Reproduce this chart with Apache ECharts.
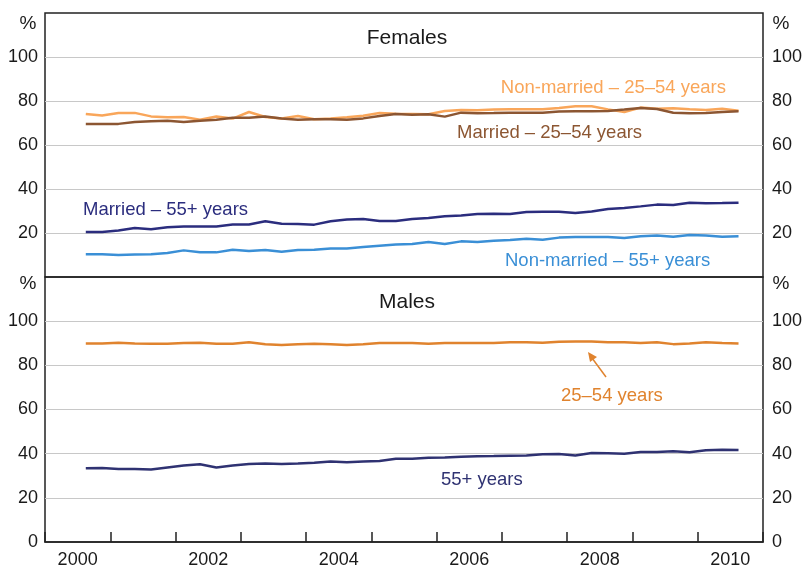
<!DOCTYPE html>
<html>
<head>
<meta charset="utf-8">
<script src="https://cdn.jsdelivr.net/npm/echarts@6/dist/echarts.min.js"></script>
<style>
  html, body { margin: 0; padding: 0; background: #fff; }
  #chart { width: 808px; height: 570px; }
</style>
</head>
<body>
<div id="chart"></div>
<script>
'use strict';
/* participation rates by marital status / age, quarterly 2000 Q3 - 2010 Q3 */

var years = ['2000', '2001', '2002', '2003', '2004', '2005', '2006', '2007', '2008', '2009', '2010'];

// females
var nonMarried2554 = [74.1, 73.4, 74.5, 74.6, 73.0, 72.6, 72.7, 71.5, 73.0, 72.0, 75.0, 72.7, 72.0, 73.2, 71.7, 72.1, 72.6, 73.3, 74.5, 74.2, 74.1,
  74.0, 75.5, 75.9, 75.8, 76.1, 76.2, 76.2, 76.2, 76.8, 77.6, 77.6, 76.2, 75.0, 77.0, 76.5, 76.7, 76.2, 75.9, 76.5, 75.6];
var married2554 = [69.6, 69.5, 69.6, 70.5, 70.8, 71.0, 70.4, 71.0, 71.5, 72.4, 72.4, 73.0, 72.0, 71.5, 71.7, 71.7, 71.5, 72.1, 73.2, 74.1, 73.8,
  74.0, 72.9, 74.7, 74.4, 74.5, 74.7, 74.7, 74.7, 75.2, 75.3, 75.3, 75.5, 76.1, 76.8, 76.4, 74.7, 74.4, 74.5, 75.0, 75.3];
var married55 = [20.5, 20.5, 21.1, 22.3, 21.7, 22.6, 23.0, 23.0, 23.0, 23.9, 23.9, 25.3, 24.2, 24.1, 23.8, 25.3, 26.1, 26.4, 25.5, 25.5, 26.4,
  26.8, 27.6, 28.0, 28.6, 28.8, 28.6, 29.5, 29.7, 29.7, 29.1, 29.8, 30.9, 31.4, 32.1, 32.9, 32.7, 33.8, 33.5, 33.6, 33.8];
var nonMarried55 = [10.3, 10.3, 10.0, 10.2, 10.3, 10.9, 12.1, 11.2, 11.2, 12.4, 11.8, 12.3, 11.5, 12.3, 12.4, 13.0, 13.0, 13.6, 14.2, 14.8, 15.0,
  15.9, 15.0, 16.2, 15.9, 16.5, 16.8, 17.4, 16.9, 17.9, 18.2, 18.2, 18.2, 17.7, 18.5, 18.9, 18.3, 19.1, 18.9, 18.3, 18.5];

// males
var males2554 = [89.9, 89.9, 90.2, 89.9, 89.8, 89.8, 90.1, 90.2, 89.8, 89.8, 90.4, 89.6, 89.2, 89.5, 89.8, 89.6, 89.2, 89.6, 90.1, 90.1, 90.1,
  89.8, 90.1, 90.1, 90.1, 90.1, 90.4, 90.5, 90.2, 90.7, 90.8, 90.8, 90.4, 90.4, 90.1, 90.5, 89.6, 89.9, 90.4, 90.1, 89.9];
var males55 = [33.4, 33.5, 33.1, 33.1, 32.8, 33.7, 34.6, 35.2, 33.7, 34.6, 35.3, 35.6, 35.3, 35.5, 35.9, 36.5, 36.1, 36.5, 36.7, 37.7, 37.7,
  38.2, 38.3, 38.6, 38.8, 38.9, 39.1, 39.2, 39.7, 39.8, 39.2, 40.3, 40.2, 40.0, 40.8, 40.8, 41.1, 40.6, 41.5, 41.8, 41.7];

// quarter categories, data runs from 2000 Q3 to 2010 Q3
var quarters = [];
for (var i = 0; i < years.length; i++) {
  for (var q = 1; q <= 4; q++) {
    quarters.push(years[i] + ' Q' + q);
  }
}
function pad(values) {
  return [null, null].concat(values).concat([null]);
}

var FONT = 'Liberation Sans, Arial, sans-serif';
var TXT = '#1a1a1a';
var GL = 45, GR = 763, TOP1 = 13, MID = 277, BOT = 542;

var gridLines = ['rgba(0,0,0,0)', '#c8c8c8', '#c8c8c8', '#c8c8c8', '#c8c8c8', '#c8c8c8', 'rgba(0,0,0,0)'];

function yAxis(gridIndex, side, hideZero) {
  return {
    type: 'value',
    gridIndex: gridIndex,
    position: side,
    min: 0,
    max: 120,
    interval: 20,
    axisLine: { show: false },
    axisTick: { show: false },
    axisLabel: {
      fontSize: 18,
      fontFamily: FONT,
      color: TXT,
      margin: side === 'left' ? 7 : 9,
      formatter: function(v) {
        if (v === 120 || (hideZero && v === 0)) return '';
        return v;
      }
    },
    splitLine: { show: side === 'left', lineStyle: { color: gridLines, width: 1 } }
  };
}

function line(name, values, xIdx, yIdx, color) {
  return {
    name: name,
    type: 'line',
    xAxisIndex: xIdx,
    yAxisIndex: yIdx,
    data: pad(values),
    showSymbol: false,
    symbol: 'none',
    lineStyle: { color: color, width: 2.5 },
    itemStyle: { color: color },
    silent: true,
    z: 3
  };
}

function label(text, x, y, color, align, size) {
  return {
    type: 'text',
    x: x,
    y: y,
    z: 10,
    style: {
      text: text,
      fill: color,
      font: (size || 18.5) + 'px ' + FONT,
      textAlign: align || 'left',
      textVerticalAlign: 'middle'
    }
  };
}

var chart = echarts.init(document.getElementById('chart'));
var option = {
  animation: false,
  backgroundColor: '#fff',
  grid: [
    { left: GL, right: 808 - GR, top: TOP1, height: MID - TOP1, show: true, borderColor: '#222', borderWidth: 1.5, backgroundColor: 'transparent' },
    { left: GL, right: 808 - GR, top: MID, height: BOT - MID, show: true, borderColor: '#222', borderWidth: 1.5, backgroundColor: 'transparent' }
  ],
  xAxis: [
    { type: 'category', gridIndex: 0, data: quarters, boundaryGap: true, show: false },
    { type: 'category', gridIndex: 1, data: quarters, boundaryGap: true, show: false, position: 'top' },
    {
      type: 'category',
      gridIndex: 1,
      data: years,
      boundaryGap: true,
      position: 'bottom',
      axisLine: { show: true, lineStyle: { color: '#222', width: 1.5 } },
      axisTick: { show: true, inside: true, length: 10, interval: 0, lineStyle: { color: '#222', width: 1.5 } },
      axisLabel: { interval: 1, fontSize: 18, fontFamily: FONT, color: TXT, margin: 9 },
      splitLine: { show: false }
    }
  ],
  yAxis: [
    yAxis(0, 'left', true),
    yAxis(0, 'right', true),
    yAxis(1, 'left', false),
    yAxis(1, 'right', false)
  ],
  series: [
    line('Non-married – 25–54 years', nonMarried2554, 0, 0, '#f9a65a'),
    line('Married – 25–54 years', married2554, 0, 0, '#8c5632'),
    line('Married – 55+ years', married55, 0, 0, '#2b2d7e'),
    line('Non-married – 55+ years', nonMarried55, 0, 0, '#3a8fd6'),
    line('25–54 years', males2554, 1, 2, '#e0832e'),
    line('55+ years', males55, 1, 2, '#2f3272')
  ],
  graphic: [
    label('%', 28, 24, TXT, 'center', 19),
    label('%', 781, 24, TXT, 'center', 19),
    label('%', 28, 284, TXT, 'center', 19),
    label('%', 781, 284, TXT, 'center', 19),
    label('Females', 407, 38, TXT, 'center', 21),
    label('Males', 407, 302, TXT, 'center', 21),
    label('Non-married – 25–54 years', 726, 88, '#f9a65a', 'right'),
    label('Married – 25–54 years', 457, 133, '#8c5632', 'left'),
    label('Married – 55+ years', 83, 210, '#2b2d7e', 'left'),
    label('Non-married – 55+ years', 505, 261, '#3a8fd6', 'left'),
    label('25–54 years', 561, 396, '#e0832e', 'left'),
    label('55+ years', 441, 480, '#2f3272', 'left'),
    {
      type: 'line',
      z: 10,
      shape: { x1: 606, y1: 377, x2: 592, y2: 358 },
      style: { stroke: '#e0832e', lineWidth: 1.5 }
    },
    {
      type: 'polygon',
      z: 10,
      shape: { points: [[588, 352], [597, 357], [590, 362]] },
      style: { fill: '#e0832e' }
    }
  ]
};
chart.setOption(option);
</script>
</body>
</html>
